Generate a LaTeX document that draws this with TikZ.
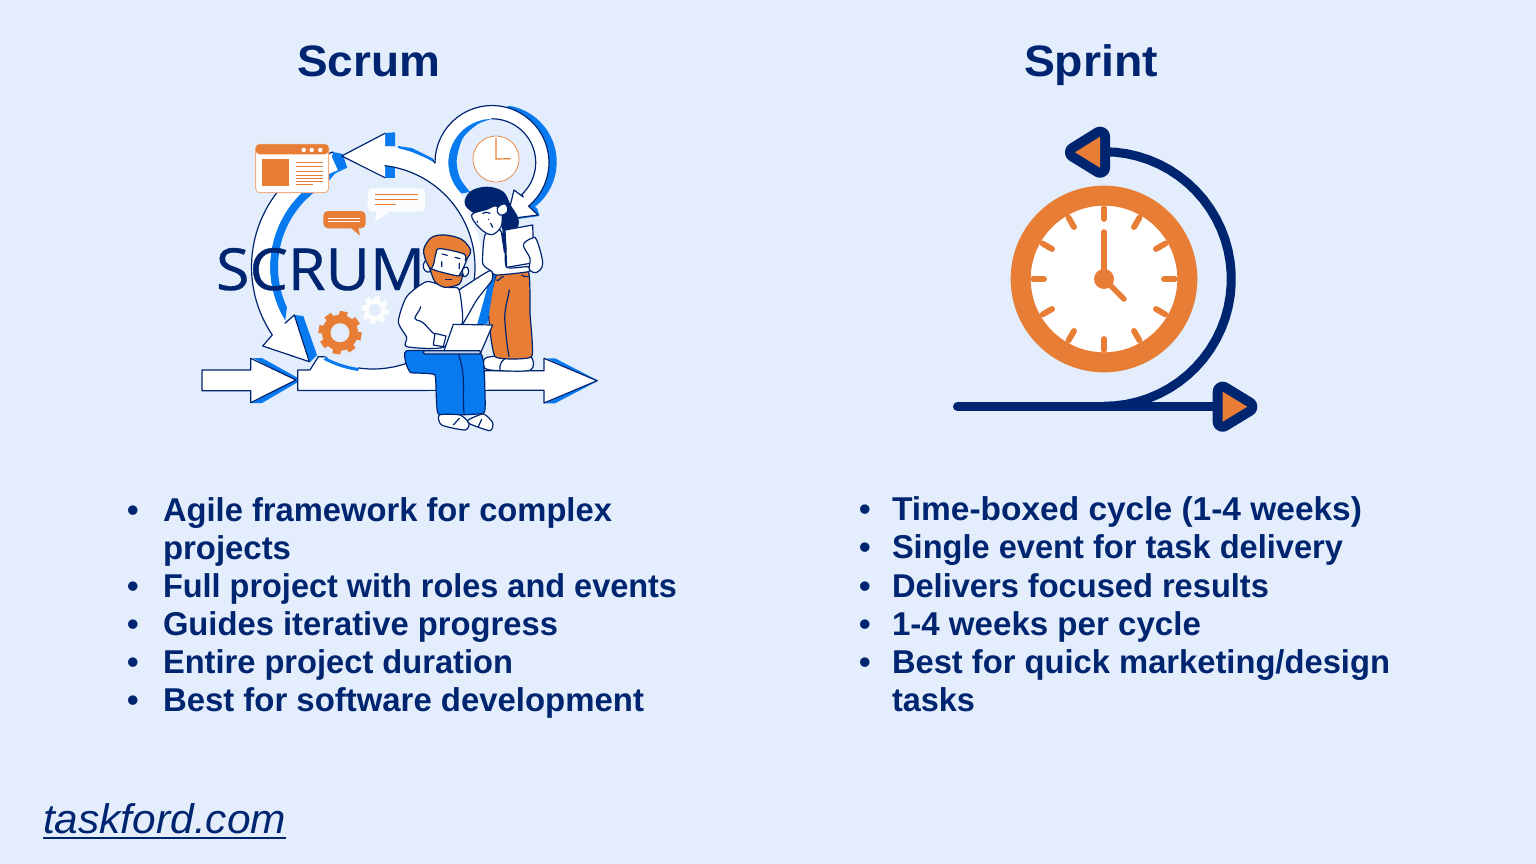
\documentclass[tikz,border=0pt]{standalone}
\usepackage{fontspec}
\usepackage{graphicx}
\setmainfont{Liberation Sans}
\newfontfamily\logofont{Open Sans}[FakeBold=0.6]
\definecolor{bgc}{RGB}{227,237,252}
\definecolor{navy}{RGB}{0,37,112}
\definecolor{orng}{RGB}{232,125,53}
\definecolor{blu}{RGB}{8,122,240}
\newcommand{\arcto}[5]{-- plot[domain=#4:#5,samples=36,variable=\t] ({#1+#3*cos(\t)},{#2+#3*sin(\t)})}
\newcommand{\fw}[2]{\resizebox{\dimexpr #1pt*3/4\relax}{\height}{#2}}
\tikzset{
  ln/.style={navy,line width=0.9pt,line join=round,line cap=round},
  wf/.style={fill=white,draw=navy,line width=0.9pt,line join=round},
  of/.style={fill=orng,draw=navy,line width=0.9pt,line join=round},
  bf/.style={fill=blu,draw=navy,line width=0.9pt,line join=round},
  bull/.style={anchor=base west,inner sep=0pt,outer sep=0pt,text=navy,font=\bfseries\fontsize{24.75pt}{28pt}\selectfont},
  ttl/.style={anchor=base west,inner sep=0pt,outer sep=0pt,text=navy,font=\bfseries\fontsize{33pt}{38pt}\selectfont},
  tick/.style={orng,line width=4.4pt,line cap=round},
  navyw/.style={navy,line width=6.8pt,line cap=round}
}
\begin{document}
\begin{tikzpicture}[x=0.75pt,y=-0.75pt]
\useasboundingbox (0,0) rectangle (1536,864);
\fill[bgc] (0,0) rectangle (1536,864);

% titles
\node[ttl] (t1) at (297,76) {\fw{143}{Scrum}};
\node[ttl] (t2) at (1024,76) {\fw{134}{Sprint}};

% ---------- Scrum illustration
% blue parts under white
\fill[blu] (492,119) \arcto{492}{162.5}{44}{-90}{-225} -- plot[smooth] coordinates {(470,192) (460,178) (456.7,160) (463,138) (478,124) (492,119)} -- cycle;
\fill[blu] (506,107) \arcto{499.7}{162}{57}{-80}{52} -- (537,208) -- (539.5,216) -- (518,219) -- (530,205) \arcto{492}{162.5}{50}{40}{-80} -- cycle;
\fill[blu] (338,170) \arcto{373}{267}{103}{250}{147} -- (285,322) \arcto{373}{267}{95}{155}{240} -- cycle;
\fill[blu] (333,152) -- (342.7,154) -- (347.3,167.7) -- (328,176.7) -- cycle;
\fill[blu] (385,133) -- (395,132.3) -- (395,146) -- (385,146) -- cycle;
\fill[blu] (385,163) -- (395,163) -- (395,177.7) -- (385,177.7) -- cycle;
\fill[blu] (398,146) -- (412,148) -- (433,158.5) -- (435,163) -- (412,152) -- (398,148) -- cycle;
\fill[blu] (294.3,315) -- (303.3,316) -- (317,355) -- (310,362) -- cycle;
\fill[blu] (253,358) -- (262,358) -- (298,378) -- (296,381) -- cycle;
\fill[blu] (251,403) -- (262,403) -- (298,382) -- (296,380) -- cycle;
\fill[blu] (546.7,358.3) -- (555,358.3) -- (598.3,380.7) -- (596,381) -- cycle;
\fill[blu] (545,403.3) -- (555,403.3) -- (598.3,380.7) -- (596,381) -- cycle;

% loop and top arrow
\fill[white] (341.7,156) -- (385,133.3) -- (385,146) \arcto{373}{267}{121}{276}{300.8} \arcto{492}{162.5}{57}{180}{410} -- (538,215) -- (507,219) -- (514,190) -- (523.3,197) \arcto{492}{162.5}{43.7}{47}{-225} -- (478,235) -- (495,300) -- (440,370) \arcto{373}{267}{102}{80}{-84} -- (385,165.8) -- (385,177.7) -- cycle;
\draw[ln] (385,133.3) -- (341.7,156) -- (385,177.7);
\draw[ln] (435,163) \arcto{492}{162.5}{57}{180}{410} -- (538,215) -- (507,219) -- (514,190) -- (523.3,197) \arcto{492}{162.5}{43.7}{47}{-90};
\draw[ln] (433,160) -- (435,163);
\draw[ln] (385,165.8) \arcto{373}{267}{102}{-83}{10};

% left band
\fill[white] (330,153) \arcto{373}{267}{121.5}{249}{146} -- (262.7,346) -- (309.3,361.7) -- (294.3,315) -- (285,323.3) \arcto{373}{267}{103}{147}{250} -- cycle;
\draw[ln] (330,153) \arcto{373}{267}{121.5}{249}{146} -- (262.7,346) -- (309.3,361.7) -- (294.3,315) -- (285,323.3);
\draw[ln] (330,153) -- (333,152);
% small left arrow
\draw[wf] (202,370) -- (250.7,370) -- (250.7,358.3) -- (296,380) -- (250.7,402.7) -- (250.7,390.7) -- (202,390.7) -- cycle;
% bottom arrow
\fill[white] (297.7,390.5) -- (297.7,370) -- (310,370) -- (318.3,356.7) \arcto{373}{267}{105}{121}{100} \arcto{373}{267}{102}{100}{60} -- (470,370.7) -- (544,370.7) -- (544,358.3) -- (597,380.7) -- (544,403) -- (544,390.3) -- cycle;
\draw[ln] (318.3,356.7) -- (310,370) -- (297.7,370) -- (297.7,390.5) -- (544,390.3) -- (544,403) -- (597,380.7) -- (544,358.3) -- (544,370.7) -- (470,370.7);
\draw[ln] (318.3,356.7) -- (326,356.9);
\draw[ln] (358,368.5) \arcto{373}{267}{102}{98}{60};
\fill[blu] (326.7,356.7) \arcto{373}{267}{105}{118}{98} \arcto{373}{267}{102}{98}{116} -- cycle;

% clock
\node[circle,fill=white,draw=orng,line width=0.5pt,minimum size=34.5pt,inner sep=0pt] (clk) at (496,159) {};
\draw[orng,line width=0.9pt] (496,138) -- (496,159) -- (510.7,158.7);

% window
\draw[fill=white,draw=orng!60,line width=0.7pt,rounded corners=3pt] (255.7,144.3) rectangle (328.7,192.7);
\fill[orng,rounded corners=3pt] (255.7,154.3) -- (255.7,144.3) -- (328.7,144.3) -- (328.7,154.3) -- cycle;
\fill[orng] (262.3,159) rectangle (289.3,185.7);
\foreach \yy in {162.7,166.3,171,175,178.3,181.3} \draw[orng,line width=0.75pt] (296,\yy) -- (323.3,\yy);
\draw[orng,line width=0.75pt] (296,184.7) -- (313,184.7);
\foreach \xx in {303.7,311.7,320.3} \fill[white] (\xx,150) circle[radius=2.2];

% bubbles
\fill[orng,rounded corners=3.5pt] (323.3,211) rectangle (365.7,228.3);
\fill[orng] (351,228) -- (360,235.7) -- (358.3,228) -- cycle;
\draw[white,line width=0.6pt] (328.3,218.3) -- (360,218.3) (328.3,221.7) -- (360,221.7);
\fill[white,opacity=.85,rounded corners=3.5pt] (367.7,188.3) rectangle (425,211.7);
\fill[white,opacity=.85] (376.7,211.7) -- (375,221.7) -- (390,211.7) -- cycle;
\draw[orng,line width=0.7pt] (375,194.3) -- (418,194.3) (375,199.7) -- (418,199.7) (375,204.3) -- (396,204.3);

% gears
\foreach \a in {0,45,...,315} \draw[orng,line width=6pt] (340,332.7) -- +(\a+10:21.5);
\fill[orng] (340,332.7) circle[radius=18];
\fill[bgc] (340,332.7) circle[radius=9.5];
\foreach \a in {0,45,...,315} \draw[white,line width=4pt,opacity=.8] (375,310) -- +(\a+10:14);
\fill[white,opacity=.8] (375,310) circle[radius=11];
\fill[bgc] (375,310) circle[radius=6];

% SCRUM word
\node[anchor=base west,inner sep=0pt,outer sep=0pt,text=navy,font=\fontsize{43.5pt}{50pt}\selectfont\logofont] (word) at (216,290) {\fw{209}{SCRUM}};

% ---------- people (coordinates in 3x crop units)
\begin{scope}[shift={(390,230)},x=0.25pt,y=-0.25pt]
% woman
\draw[wf] plot[smooth cycle,tension=.5] coordinates {(285,385) (330,378) (420,378) (422,420) (330,422) (285,415)};
\draw[ln] (330,420) to[out=100,in=190] (355,382);
\draw[of] plot[smooth cycle,tension=.25] coordinates {(322,130) (415,125) (420,250) (425,380) (315,380) (295,240)};
\draw[ln] (358,180) to[out=260,in=95] (345,280) to[out=-85,in=100] (357,380);
\draw[ln] (320,150) to[out=-60,in=180] (340,140) (395,135) to[out=-60,in=170] (415,140);
\fill[blu] (320,110) -- (292,282) -- (262,282) -- (298,150) -- cycle;
% hair
\fill[navy] plot[smooth cycle,tension=.6] coordinates {(225,-75) (240,-115) (290,-130) (340,-115) (362,-75) (385,-35) (380,0) (345,40) (330,-20) (270,-40)};
% torso
\draw[wf] plot[smooth cycle,tension=.35] coordinates {(285,15) (330,0) (345,50) (350,112) (415,110) (415,125) (320,135) (302,122) (278,100)};
\draw[wf] (345,0) -- (428,-15) -- (432,98) -- (350,112) -- cycle;
\draw[wf] plot[smooth cycle,tension=.6] coordinates {(425,25) (440,30) (458,100) (440,127) (418,118) (420,85) (400,45)};
\fill[navy] (333,10) -- (345,5) -- (350,60) -- (342,70) -- cycle;
% arm
\draw[wf] plot[smooth cycle,tension=.4] coordinates {(205,185) (230,165) (300,122) (306,150) (260,210) (215,285) (205,240)};
% face
\draw[wf] plot[smooth cycle,tension=.6] coordinates {(245,-45) (290,-62) (318,-72) (335,-50) (333,-10) (305,14) (270,-5)};
\draw[wf] plot[smooth cycle,tension=.8] coordinates {(322,-65) (345,-78) (352,-55) (330,-45)};
\draw[ln] (278,-50) to[bend left=30] (300,-50);
\draw[ln] (302,-20) -- (308,-8);
\fill[navy] (262,-25) circle[radius=3] (296,-32) circle[radius=2];
% man: body
\draw[wf] plot[smooth cycle,tension=.4] coordinates {(110,155) (170,172) (205,175) (215,225) (215,285) (160,352) (50,350) (50,322) (25,275) (50,200)};
\draw[ln] (92,230) to[out=260,in=170] (80,270) to[out=-10,in=150] (138,315);
\draw[wf] (135,310) -- (168,318) -- (160,350) -- (130,345) -- cycle;
% legs
\draw[bf] plot[smooth cycle,tension=.2] coordinates {(50,362) (272,370) (285,500) (280,550) (145,552) (135,435) (62,428) (48,400)};
\draw[ln] (205,372) to[out=-70,in=95] (222,550);
% shoes
\draw[wf] plot[smooth cycle,tension=.4] coordinates {(148,555) (210,555) (237,580) (225,600) (155,585)};
\draw[wf] plot[smooth cycle,tension=.4] coordinates {(235,570) (280,552) (308,578) (300,602) (240,582)};
\draw[ln] (190,585) -- (208,565) (265,590) -- (275,568);
% laptop
\draw[wf] (190,283) -- (308,285) -- (272,368) -- (160,368) -- cycle;
\draw[fill=blu!60!navy!30,draw=navy,line width=0.9pt,rounded corners=1pt] (100,362) rectangle (272,372);
% head
\draw[wf] plot[smooth cycle,tension=.7] coordinates {(100,105) (110,90) (125,105) (120,125) (105,122)};
\draw[wf] plot[smooth cycle,tension=.7] coordinates {(218,118) (232,112) (235,130) (222,140)};
\draw[wf] plot[smooth cycle,tension=.5] coordinates {(125,130) (170,158) (205,140) (230,70) (140,50) (118,90)};
\draw[of] plot[smooth cycle,tension=.5] coordinates {(122,118) (145,124) (205,138) (218,130) (208,162) (165,172) (135,155)};
\fill[navy] (165,148) rectangle (185,151);
\draw[of] plot[smooth cycle,tension=.55] coordinates {(105,85) (102,55) (125,22) (165,15) (215,28) (242,60) (235,80) (226,92) (222,72) (150,56) (138,70) (130,105) (120,115)};
\draw[ln] (156,72) -- (172,76) (195,82) -- (210,86) (208,100) -- (208,116) (155,95) -- (155,110);
\end{scope}

% ---------- Sprint icon
\node[circle,draw=orng,fill=white,line width=15pt,minimum size=125pt,inner sep=0pt] (dial) at (1104,279) {};
\foreach \a in {0,30,...,330} \draw[tick] (1104,279) ++(\a:71) -- ++(\a:-11);
\draw[orng,line width=4.2pt,line cap=round] (1104,279) -- (1104,232);
\draw[orng,line width=4.2pt,line cap=round] (1104,279) -- (1124,299);
\fill[orng] (1104,279) circle[radius=10];
\draw[navyw] (1104,152) \arcto{1104}{279}{127.3}{-90}{90};
\coordinate (ls) at (957.5,406.7);
\coordinate (le) at (1225,406.7);
\draw[navyw] (ls) -- (le);
\draw[navy,fill=navy,line width=15pt,line join=round] (1222.7,391.7) -- (1222.7,421.7) -- (1247.3,406.7) -- cycle;
\fill[orng] (1222.7,391.7) -- (1222.7,421.7) -- (1247.3,406.7) -- cycle;
\draw[navy,fill=navy,line width=15pt,line join=round] (1100,136.7) -- (1100,167.7) -- (1075,152.3) -- cycle;
\fill[orng] (1100,136.7) -- (1100,167.7) -- (1075,152.3) -- cycle;

% ---------- bullets left
\node[bull] (b1) at (127,521) {•};
\node[bull] (l1) at (163,521) {\fw{449}{Agile framework for complex}};
\node[bull] (l1b) at (163,559) {\fw{128}{projects}};
\node[bull] (b2) at (127,597) {•};
\node[bull] (l2) at (163,597) {\fw{514}{Full project with roles and events}};
\node[bull] (b3) at (127,635) {•};
\node[bull] (l3) at (163,635) {\fw{395}{Guides iterative progress}};
\node[bull] (b4) at (127,673) {•};
\node[bull] (l4) at (163,673) {\fw{350}{Entire project duration}};
\node[bull] (b5) at (127,711) {•};
\node[bull] (l5) at (163,711) {\fw{481}{Best for software development}};
% ---------- bullets right
\node[bull] (c1) at (859,520) {•};
\node[bull] (r1) at (892,520) {\fw{470}{Time-boxed cycle (1-4 weeks)}};
\node[bull] (c2) at (859,558) {•};
\node[bull] (r2) at (892,558) {\fw{451}{Single event for task delivery}};
\node[bull] (c3) at (859,597) {•};
\node[bull] (r3) at (892,597) {\fw{377}{Delivers focused results}};
\node[bull] (c4) at (859,635) {•};
\node[bull] (r4) at (892,635) {\fw{309}{1-4 weeks per cycle}};
\node[bull] (c5) at (859,673) {•};
\node[bull] (r5) at (892,673) {\fw{498}{Best for quick marketing/design}};
\node[bull] (r5b) at (892,711) {\fw{83}{tasks}};

% logo
\node[anchor=base west,inner sep=0pt,outer sep=0pt,text=navy,font=\fontsize{31pt}{36pt}\selectfont\itshape] (logo) at (43,833) {\fw{243}{taskford.com}};
\coordinate (ua) at (43,838);
\coordinate (ub) at (286,838);
\draw[navy,line width=1.1pt] (ua) -- (ub);
\end{tikzpicture}
\end{document}
